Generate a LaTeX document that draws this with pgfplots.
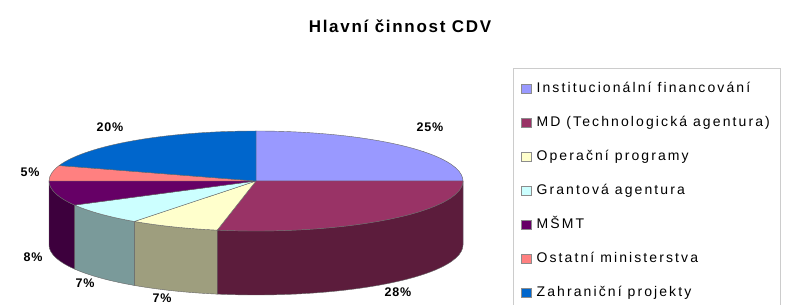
\documentclass[border=0pt]{standalone}
\usepackage{pgfplots}
\pgfplotsset{compat=1.18}
\usepackage{pgfplotstable}
\usepackage{fontspec}
\setmainfont{Liberation Sans}
\newfontfamily\lgfont[LetterSpace=15]{Liberation Sans}
\newfontfamily\lbfont[LetterSpace=6]{Liberation Sans}
\newfontfamily\ttlfont[LetterSpace=10]{Liberation Sans}

\definecolor{cA}{HTML}{9999FF}\definecolor{cAs}{HTML}{5C5C99}
\definecolor{cB}{HTML}{993366}\definecolor{cBs}{HTML}{5C1C3C}
\definecolor{cC}{HTML}{FFFFCC}\definecolor{cCs}{HTML}{9E9E7E}
\definecolor{cD}{HTML}{CCFFFF}\definecolor{cDs}{HTML}{7A9A9A}
\definecolor{cE}{HTML}{660066}\definecolor{cEs}{HTML}{3D003D}
\definecolor{cF}{HTML}{FF8080}\definecolor{cFs}{HTML}{994D4D}
\definecolor{cG}{HTML}{0066CC}\definecolor{cGs}{HTML}{003D7A}

\pgfplotstableread{
value top side
25 cA cAs
28 cB cBs
7  cC cCs
7  cD cDs
8  cE cEs
5  cF cFs
20 cG cGs
}\piedata

\begin{document}
\begin{tikzpicture}
\useasboundingbox (0,0) rectangle (787pt,305pt);
\begin{axis}[
  hide axis, scale only axis, width=787pt, height=305pt,
  xmin=0, xmax=787, ymin=0, ymax=305, clip=false,
  legend image code/.code={\draw[#1, draw=black!45, line width=0.4pt] (0pt,-4.5pt) rectangle (10pt,4.5pt);},
  legend cell align=left,
  legend style={at={(axis cs:513,237)}, anchor=north west, draw=black!20, fill=white,
    inner xsep=8pt, inner ysep=12pt, row sep=17pt, column sep=3pt,
    font=\lgfont\fontsize{14}{16}\selectfont,
    nodes={inner sep=2pt, text height=10pt, text depth=3pt}},
]
\def\cx{256}\def\cy{124}\def\rx{207}\def\ry{50}\def\dep{64}
\pgfplotsextra{%
  \gdef\cum{0}%
  \pgfplotsforeachungrouped \i in {0,...,6}{%
    \pgfplotstablegetelem{\i}{value}\of\piedata \edef\pval{\pgfplotsretval}%
    \pgfplotstablegetelem{\i}{side}\of\piedata \edef\sidecol{\pgfplotsretval}%
    \pgfmathsetmacro\aS{90-3.6*(\cum+\pval)}%
    \pgfmathsetmacro\aE{90-3.6*\cum}%
    \pgfmathsetmacro\lo{max(\aS,-180)}%
    \pgfmathsetmacro\hi{min(\aE,0)}%
    \pgfmathtruncatemacro\vis{\hi>\lo}%
    \ifnum\vis=1
      \path[fill=\sidecol, draw=black!60, line width=0.4pt, line join=round]
        (axis cs:{\cx+\rx*cos(\lo)},{\cy+\ry*sin(\lo)})
        arc[start angle=\lo, end angle=\hi, x radius=\rx, y radius=\ry]
        -- ++(0,-\dep)
        arc[start angle=\hi, end angle=\lo, x radius=\rx, y radius=\ry] -- cycle;
    \fi
    \pgfmathsetmacro\cum{\cum+\pval}%
  }%
  \gdef\cum{0}%
  \pgfplotsforeachungrouped \i in {0,...,6}{%
    \pgfplotstablegetelem{\i}{value}\of\piedata \edef\pval{\pgfplotsretval}%
    \pgfplotstablegetelem{\i}{top}\of\piedata \edef\topcol{\pgfplotsretval}%
    \pgfmathsetmacro\aS{90-3.6*(\cum+\pval)}%
    \pgfmathsetmacro\aE{90-3.6*\cum}%
    \path[fill=\topcol, draw=black!60, line width=0.4pt, line join=round]
      (axis cs:\cx,\cy) -- (axis cs:{\cx+\rx*cos(\aE)},{\cy+\ry*sin(\aE)})
      arc[start angle=\aE, end angle=\aS, x radius=\rx, y radius=\ry] -- cycle;
    \pgfmathsetmacro\cum{\cum+\pval}%
  }%
}
\addlegendimage{fill=cA}\addlegendentry{Institucionální financování}
\addlegendimage{fill=cB}\addlegendentry{MD (Technologická agentura)}
\addlegendimage{fill=cC}\addlegendentry{Operační programy}
\addlegendimage{fill=cD}\addlegendentry{Grantová agentura}
\addlegendimage{fill=cE}\addlegendentry{MŠMT}
\addlegendimage{fill=cF}\addlegendentry{Ostatní ministerstva}
\addlegendimage{fill=cG}\addlegendentry{Zahraniční projekty}

\node[font=\ttlfont\bfseries\fontsize{17}{19}\selectfont] at (axis cs:400,279) {Hlavní činnost CDV};
\begin{scope}[every node/.style={font=\lbfont\bfseries\fontsize{12.5}{14}\selectfont}]
\node at (axis cs:430,178) {25\%};
\node at (axis cs:398,13) {28\%};
\node at (axis cs:162,7) {7\%};
\node at (axis cs:85,22) {7\%};
\node at (axis cs:33,48) {8\%};
\node at (axis cs:30,133) {5\%};
\node at (axis cs:110,178) {20\%};
\end{scope}
\end{axis}
\end{tikzpicture}
\end{document}
